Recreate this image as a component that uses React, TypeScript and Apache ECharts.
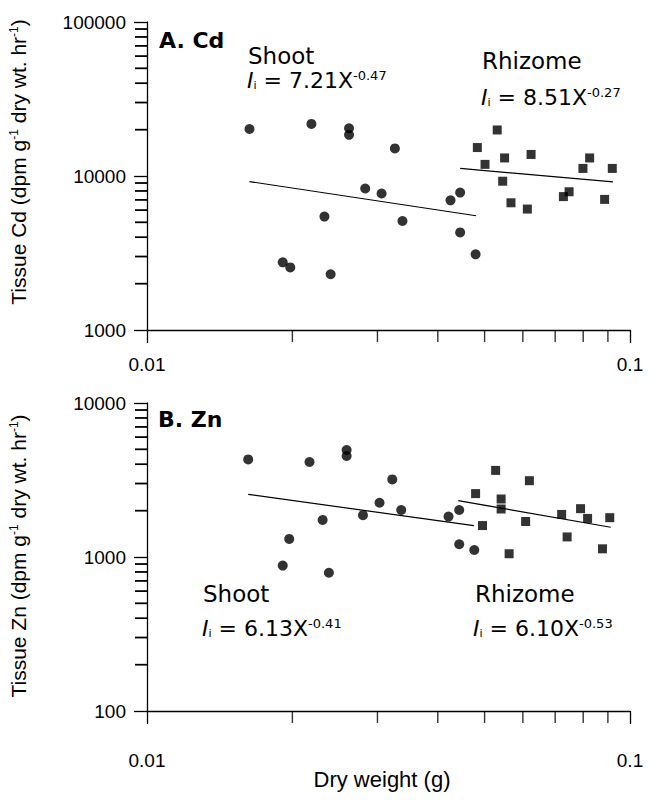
import React, { useEffect, useRef } from "react";
import * as echarts from "echarts";

// ---------- data ----------
// Panel A (Cd)
const cdShootX = [0.0163, 0.0219, 0.0262, 0.0262, 0.0326, 0.0283, 0.0306, 0.0233, 0.0338, 0.0425, 0.0445, 0.0445, 0.0479, 0.0191, 0.0198, 0.024];
const cdShootY = [20200, 21800, 20400, 18500, 15100, 8300, 7700, 5450, 5100, 6950, 7800, 4300, 3100, 2750, 2550, 2300];
const cdRhizX = [0.0483, 0.0501, 0.0531, 0.055, 0.0545, 0.0567, 0.0624, 0.0613, 0.0728, 0.0748, 0.0799, 0.0825, 0.0886, 0.0919];
const cdRhizY = [15300, 11900, 19900, 13100, 9250, 6700, 13800, 6100, 7350, 7900, 11200, 13100, 7050, 11200];
const cdShootFitX = [0.0163, 0.048];
const cdShootFitY = [9200, 5520];
const cdRhizFitX = [0.0445, 0.0922];
const cdRhizFitY = [11200, 9150];

// Panel B (Zn)
const znShootX = [0.0162, 0.0217, 0.0259, 0.0259, 0.0322, 0.0303, 0.0336, 0.028, 0.0231, 0.0197, 0.0191, 0.0238, 0.0421, 0.0443, 0.0443, 0.0476];
const znShootY = [4300, 4140, 4950, 4530, 3190, 2250, 2020, 1870, 1740, 1310, 880, 790, 1830, 2020, 1210, 1110];
const znRhizX = [0.0479, 0.0495, 0.0527, 0.0541, 0.0541, 0.0562, 0.0619, 0.0608, 0.0722, 0.0741, 0.079, 0.0817, 0.0877, 0.0908];
const znRhizY = [2580, 1600, 3650, 2380, 2050, 1050, 3130, 1700, 1890, 1350, 2060, 1780, 1130, 1800];
const znShootFitX = [0.0162, 0.0475];
const znShootFitY = [2550, 1600];
const znRhizFitX = [0.0441, 0.0912];
const znRhizFitY = [2320, 1560];

// Axes
const xRange = [0.01, 0.1];
const yRangeA = [1000, 100000];
const yRangeB = [100, 10000];
const xMinorTicks = [0.02, 0.03, 0.04, 0.05, 0.06, 0.07, 0.08, 0.09];
const yMinorTicksA = [2000, 3000, 4000, 5000, 6000, 7000, 8000, 9000, 20000, 30000, 40000, 50000, 60000, 70000, 80000, 90000];
const yMinorTicksB = [200, 300, 400, 500, 600, 700, 800, 900, 2000, 3000, 4000, 5000, 6000, 7000, 8000, 9000];

// Texts
const panelA = "A. Cd";
const panelB = "B. Zn";
const shootLabel = "Shoot";
const rhizLabel = "Rhizome";
const eqCdShoot = ["7.21X", "-0.47"];
const eqCdRhiz = ["8.51X", "-0.27"];
const eqZnShoot = ["6.13X", "-0.41"];
const eqZnRhiz = ["6.10X", "-0.53"];
const yTitleA = "Tissue Cd (dpm g{s|-1} dry wt. hr{s|-1})";
const yTitleB = "Tissue Zn (dpm g{s|-1} dry wt. hr{s|-1})";
const xTitle = "Dry weight (g)";

const zip = (xs: number[], ys: number[]) => xs.map((x, i) => [x, ys[i]]);

const SANS = "'Liberation Sans', Arial, sans-serif";
const ANN = "'DejaVu Sans', 'Liberation Sans', sans-serif";
const SQUARE = "path://M0,0L10,0L10,10L0,10Z";

type PanelCfg = {
  yRange: number[];
  yMinor: number[];
  shoot: number[][];
  rhiz: number[][];
  shootFit: number[][];
  rhizFit: number[][];
  xLabelMargin: number;
  graphic: any[];
};

const eqRich = {
  it: { fontFamily: ANN, fontSize: 22, fontStyle: "italic", fill: "#000" },
  sub: { fontFamily: ANN, fontSize: 11, fill: "#000", verticalAlign: "bottom" },
  m: { fontFamily: ANN, fontSize: 22, fill: "#000" },
  sup: { fontFamily: ANN, fontSize: 13, fill: "#000", verticalAlign: "top" },
};
const eqText = (x: number, y: number, eq: string[]) => ({
  type: "text",
  x,
  y,
  style: {
    text: `{it|I}{sub|i}{m| = ${eq[0]}}{sup|${eq[1]}}`,
    rich: eqRich,
    align: "left",
    verticalAlign: "middle",
  },
});
const plainText = (x: number, y: number, text: string, size: number, bold = false) => ({
  type: "text",
  x,
  y,
  style: {
    text,
    font: `${bold ? "bold " : ""}${size}px ${ANN}`,
    fill: "#000",
    align: "left",
    verticalAlign: "middle",
  },
});
const yTitle = (x: number, y: number, text: string) => ({
  type: "text",
  x,
  y,
  rotation: Math.PI / 2,
  style: {
    text,
    font: `21px ${SANS}`,
    fill: "#000",
    align: "center",
    verticalAlign: "middle",
    rich: { s: { fontFamily: SANS, fontSize: 12, fill: "#000", verticalAlign: "top" } },
  },
});

function buildOption(c: PanelCfg) {
  const axisCommon = (isX: boolean) => ({
    type: "log",
    logBase: 10,
    axisLine: { show: true, lineStyle: { color: "#000", width: 1.3 } },
    axisTick: { show: true, inside: false, length: 13, lineStyle: { color: "#000", width: 1.3 } },
    axisLabel: {
      fontFamily: SANS,
      fontSize: 19,
      color: "#000",
      margin: isX ? c.xLabelMargin : 21,
      formatter: isX ? (v: number) => String(Number(v.toPrecision(3))) : (v: number) => String(Math.round(v)),
    },
    splitLine: { show: false },
  });
  const tick = (data: number[][], size: number[], off: number[]) => ({
    type: "scatter",
    clip: false,
    data,
    symbol: "rect",
    symbolSize: size,
    symbolOffset: off,
    itemStyle: { color: "#000" },
  });
  const yTickData = c.yMinor.map((v) => [xRange[0], v]);
  return {
    animation: false,
    backgroundColor: "#fff",
    grid: { left: 147, right: 27, top: 22, height: 308 },
    xAxis: { ...axisCommon(true), min: xRange[0], max: xRange[1] },
    yAxis: { ...axisCommon(false), min: c.yRange[0], max: c.yRange[1] },
    series: [
      tick(yTickData, [12, 1.5], [-6, 0]),
      tick(xMinorTicks.map((v) => [v, c.yRange[0]]), [1.4, 12], [0, 6]),
      {
        type: "scatter",
        data: c.shoot,
        symbol: "circle",
        symbolSize: 10,
        itemStyle: { color: "#000" },
        silent: true,
        markPoint: {
          symbol: "rect",
          symbolSize: [12, 1.5],
          symbolOffset: [-6, 0],
          silent: true,
          itemStyle: { color: "#000" },
          label: { show: false },
          data: yTickData.map((p) => ({ coord: p })),
        },
      },
      { type: "scatter", data: c.rhiz, symbol: SQUARE, symbolSize: 9, itemStyle: { color: "#000" }, silent: true },
      { type: "line", data: c.shootFit, symbol: "none", lineStyle: { color: "#000", width: 1.2 }, silent: true },
      { type: "line", data: c.rhizFit, symbol: "none", lineStyle: { color: "#000", width: 1.2 }, silent: true },
    ],
    graphic: c.graphic,
  };
}

function Panel({ cfg, top, height }: { cfg: PanelCfg; top: number; height: number }) {
  const ref = useRef<HTMLDivElement>(null);
  useEffect(() => {
    if (!ref.current) return;
    const chart = echarts.init(ref.current, undefined, { renderer: "svg" });
    chart.setOption(buildOption(cfg));
    return () => chart.dispose();
  }, [cfg]);
  return <div ref={ref} style={{ position: "absolute", left: 0, top, width: 657, height }} />;
}

// Panel B chart starts at page y = 381; its graphic coordinates are relative to it
const panelCfgA: PanelCfg = {
  yRange: yRangeA,
  yMinor: yMinorTicksA,
  shoot: zip(cdShootX, cdShootY),
  rhiz: zip(cdRhizX, cdRhizY),
  shootFit: zip(cdShootFitX, cdShootFitY),
  rhizFit: zip(cdRhizFitX, cdRhizFitY),
  xLabelMargin: 25,
  graphic: [
    plainText(159, 40, panelA, 22, true),
    plainText(248, 56, shootLabel, 23),
    eqText(247, 80, eqCdShoot),
    plainText(482, 61, rhizLabel, 23),
    eqText(481, 97, eqCdRhiz),
    yTitle(18, 162, yTitleA),
  ],
};
const panelCfgB: PanelCfg = {
  yRange: yRangeB,
  yMinor: yMinorTicksB,
  shoot: zip(znShootX, znShootY),
  rhiz: zip(znRhizX, znRhizY),
  shootFit: zip(znShootFitX, znShootFitY),
  rhizFit: zip(znRhizFitX, znRhizFitY),
  xLabelMargin: 40,
  graphic: [
    plainText(158, 38, panelB, 22, true),
    plainText(203, 213, shootLabel, 23),
    eqText(202, 247, eqZnShoot),
    plainText(475, 213, rhizLabel, 23),
    eqText(473, 247, eqZnRhiz),
    yTitle(18, 175, yTitleB),
    {
      type: "text",
      x: 382,
      y: 398,
      style: { text: xTitle, font: `22px ${SANS}`, fill: "#000", align: "center", verticalAlign: "middle" },
    },
  ],
};

export default function App() {
  return (
    <div style={{ position: "absolute", left: 0, top: 0, width: 657, height: 800, background: "#fff" }}>
      <Panel cfg={panelCfgA} top={0} height={381} />
      <Panel cfg={panelCfgB} top={381} height={419} />
    </div>
  );
}
